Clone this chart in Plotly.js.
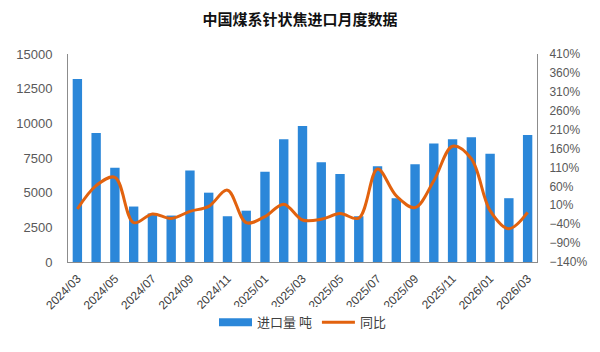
<!DOCTYPE html>
<html><head><meta charset="utf-8">
<script src="https://cdn.plot.ly/plotly-3.0.1.min.js"></script>
<style>body{margin:0;background:#fff}#c{width:600px;height:352px}</style>
</head><body><div id="c"></div>
<script>
const months = ["2024/03","2024/04","2024/05","2024/06","2024/07","2024/08","2024/09","2024/10","2024/11","2024/12",
"2025/01","2025/02","2025/03","2025/04","2025/05","2025/06","2025/07","2025/08","2025/09","2025/10","2025/11","2025/12",
"2026/01","2026/02","2026/03"];
const imports = [13200,9300,6800,4000,3500,3350,6600,5000,3300,3700,6500,8850,9800,7200,6350,3300,6900,4600,7050,8550,8850,9000,7800,4600,9150];
const yoy = [0,62,84,-36,-13,-25,-6,7,50,-36,-20,13,-29,-27,-12,-24,106,35,4,75,166,133,-4,-52,-9];
const leftTicks = [0,2500,5000,7500,10000,12500,15000];
const rightTicks = [-140,-90,-40,10,60,110,160,210,260,310,360,410];
const tickMonths = months.filter((m,i)=>i%2===0);
const barColor = '#2B87D9', lineColor = '#E2620E';

const data = [
 {type:'bar', x:months, y:imports, name:'进口量 吨', marker:{color:barColor}, yaxis:'y', showlegend:false},
 {type:'scatter', mode:'lines', x:[months[0]], y:[null], name:'进口量 吨', yaxis:'y', line:{color:barColor, width:8}, hoverinfo:'skip'},
 {type:'scatter', mode:'lines', x:months, y:yoy, name:'同比', yaxis:'y2',
  line:{color:lineColor, width:3, shape:'spline', smoothing:1}}
];
const layout = {
 width:600, height:352, margin:{l:68,r:63,t:54,b:90},
 paper_bgcolor:'#fff', plot_bgcolor:'#fff',
 title:{text:'中国煤系针状焦进口月度数据', x:0.5, xanchor:'center', y:0.945, yanchor:'middle',
   font:{family:'Noto Sans CJK SC', size:15, color:'#111', weight:'bold'}},
 bargap:0.5,
 font:{family:'Liberation Sans, Arial, sans-serif', color:'#595959'},
 xaxis:{type:'category', tickvals:tickMonths, ticktext:tickMonths, tickangle:-45, ticklabelstandoff:4,
   tickfont:{size:12, color:'#404040'}, showline:true, linecolor:'#8c8c8c', linewidth:1, ticks:'', showgrid:false},
 yaxis:{range:[0,15000], tickvals:leftTicks, ticktext:leftTicks.map(String), showgrid:false, zeroline:false, ticklabelstandoff:12,
   showline:true, linecolor:'#8c8c8c', linewidth:1, ticks:'', tickfont:{size:13,color:'#595959'}},
 yaxis2:{overlaying:'y', side:'right', range:[-140,410], tickvals:rightTicks, ticktext:rightTicks.map(v=>(v<0?'−':'')+Math.abs(v)+'%'),
   ticklabelstandoff:9, showgrid:false, zeroline:false, showline:true, linecolor:'#8c8c8c', linewidth:1, ticks:'', tickfont:{size:12,color:'#595959'}},
 legend:{orientation:'h', x:0.5, xanchor:'center', y:-0.29, yanchor:'middle', itemwidth:33, traceorder:'normal',
   font:{family:'Noto Sans CJK SC', size:13, color:'#404040'}},
 showlegend:true
};
Plotly.newPlot('c', data, layout, {staticPlot:true});
</script></body></html>
